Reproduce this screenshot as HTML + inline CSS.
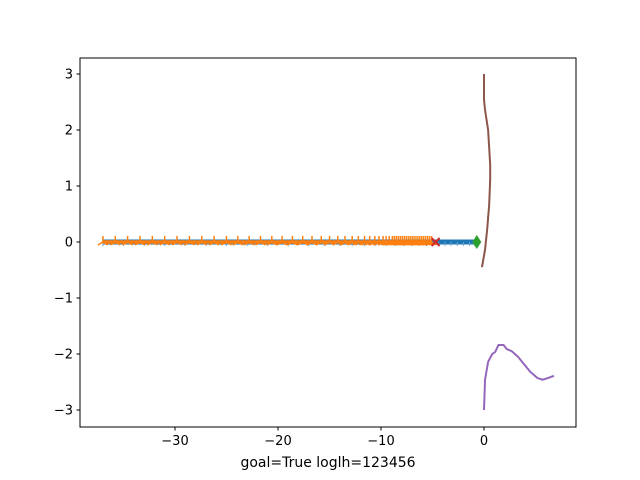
<!DOCTYPE html>
<html><head><meta charset="utf-8"><style>
body{margin:0;background:#fff;}
svg{display:block;font-family:"DejaVu Sans","Liberation Sans",sans-serif;}
</style></head><body>
<svg id="chart" width="640" height="480" viewBox="0 0 640 480"></svg>
<script>
const xTicks=[-30,-20,-10,0];
const yTicks=[-3,-2,-1,0,1,2,3];
const orangeX=[-37,-35.8,-34.6,-33.4,-32.2,-31,-29.8,-28.6,-27.4,-26.2,-25,-23.9,-22.8,-21.7,-20.6,-19.6,-18.6,-17.6,-16.7,-15.8,-15,-14.2,-13.5,-12.8,-12.2,-11.6,-11.1,-10.6,-10.2,-9.8,-9.5,-9.2,-8.9,-8.7,-8.5,-8.3,-8.1,-7.9,-7.7,-7.5,-7.3,-7.1,-6.9,-6.7,-6.5,-6.3,-6.1,-5.9,-5.7,-5.5,-5.3,-5.1];
const blueX=[-37,-35,-33,-31,-29,-27,-25,-23,-21,-19,-17,-15.5,-14,-12.8,-11.6,-10.5,-9.5,-8.6,-7.8,-7,-6.3,-5.6,-5,-4.4,-3.8,-3.2,-2.6,-2,-1.4,-0.9];
const redX=[-4.7];
const greenX=[-0.7];
const brownX=[0,0,0.1,0.4,0.6,0.6,0.5,0.3,0.1,-0.2];
const brownY=[3,2.54,2.36,2,1.38,1.11,0.66,0.21,-0.14,-0.45];
const purpleX=[0,0.1,0.4,0.8,1.1,1.4,1.9,2.2,2.7,3.3,3.7,4.5,5.2,5.7,6.2,6.8];
const purpleY=[-3,-2.46,-2.14,-2.0,-1.96,-1.84,-1.84,-1.91,-1.95,-2.05,-2.14,-2.32,-2.43,-2.46,-2.43,-2.39];

const NS="http://www.w3.org/2000/svg";
const svg=document.getElementById('chart');
const L=80,R=576,T=58,B=427;
const sx=v=>484+v*10.3;
const sy=v=>242-v*56;
function mk(tag,attrs,parent){const e=document.createElementNS(NS,tag);for(const k in attrs)e.setAttribute(k,attrs[k]);(parent||svg).appendChild(e);return e;}

const gB=mk('g',{});


mk('polyline',{points:blueX.map(v=>sx(v)+','+sy(0)).join(' '),fill:'none',stroke:'#1f77b4','stroke-width':5},gB);
blueX.forEach(v=>{const m=mk('line',{x1:sx(v),x2:sx(v),y1:sy(0),y2:sy(0)+4,stroke:'#6aa6d6','stroke-width':1},gB);

});

const gO=mk('g',{});


mk('polyline',{points:orangeX.map(v=>sx(v)+','+sy(0)).join(' '),fill:'none',stroke:'#ff7f0e','stroke-width':3.5},gO);
orangeX.forEach(v=>{const x=sx(v),y=sy(0);
const m=mk('path',{d:`M${x},${y}L${x},${y-6}M${x},${y}L${x-5},${y+3}M${x},${y}L${x+5},${y+3}`,stroke:'#ff7f0e','stroke-width':1.5,fill:'none'},gO);

});

redX.forEach(v=>{const x=sx(v),y=sy(0);
const m=mk('path',{d:`M${x-4},${y-4}L${x+4},${y+4}M${x-4},${y+4}L${x+4},${y-4}`,stroke:'#d62728','stroke-width':2});

});

greenX.forEach(v=>{const x=sx(v),y=sy(0);
const m=mk('path',{d:`M${x},${y-7}L${x+4.5},${y}L${x},${y+7}L${x-4.5},${y}Z`,fill:'#2ca02c'});

});

const br=mk('polyline',{points:brownX.map((v,i)=>sx(v)+','+sy(brownY[i])).join(' '),fill:'none',stroke:'#8c564b','stroke-width':2,'stroke-linejoin':'round'});


const pu=mk('polyline',{points:purpleX.map((v,i)=>sx(v)+','+sy(purpleY[i])).join(' '),fill:'none',stroke:'#9467bd','stroke-width':2,'stroke-linejoin':'round'});



const fr=mk('rect',{x:L,y:T,width:R-L,height:B-T,fill:'none',stroke:'#000','stroke-width':1});



xTicks.forEach(v=>{const x=sx(v);
mk('line',{x1:x,x2:x,y1:B,y2:B+3.5,stroke:'#000'});
const t=mk('text',{x:x,y:B+18,'font-size':13,'text-anchor':'middle'});t.textContent=(v<0?'\u2212'+(-v):v);

});
yTicks.forEach(v=>{const y=sy(v);
mk('line',{x1:L-3.5,x2:L,y1:y,y2:y,stroke:'#000'});
const t=mk('text',{x:L-7,y:y+4.5,'font-size':13,'text-anchor':'end'});t.textContent=(v<0?'\u2212'+(-v):v);

});
const xl=mk('text',{x:(L+R)/2,y:B+40,'font-size':14,'text-anchor':'middle'});xl.textContent='goal=True loglh=123456';


</script>
</body></html>
